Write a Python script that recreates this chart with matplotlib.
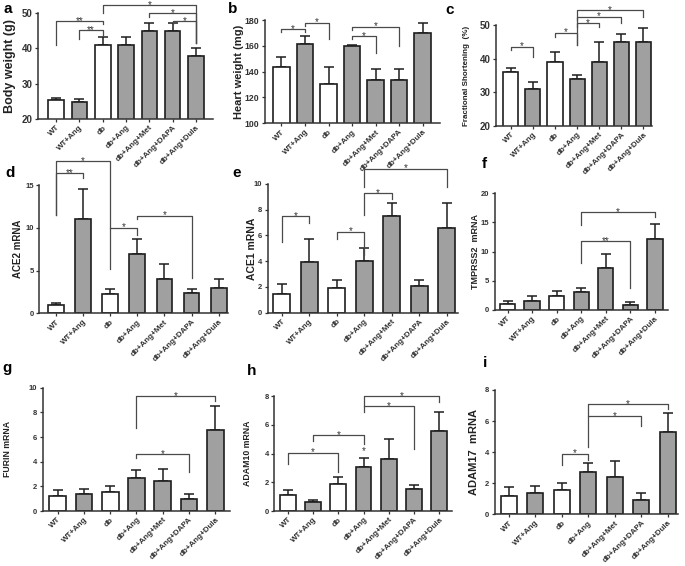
import matplotlib
matplotlib.use("Agg")
import matplotlib.pyplot as plt
import numpy as np

plt.rcParams["font.family"] = ["Liberation Sans", "DejaVu Sans"]

W, H = 685, 566

GROUPS = ["WT", "WT+Ang", "db", "db+Ang", "db+Ang+Met", "db+Ang+DAPA", "db+Ang+Dula"]
WHITE_GROUPS = ["WT", "db"]

# panel a-c: physiology
body_weight = [25.4, 24.9, 40.9, 40.9, 44.8, 44.8, 37.9]
body_weight_err = [0.6, 0.7, 2.2, 2.2, 2.2, 2.2, 2.1]
heart_weight = [143.8, 161.2, 130.4, 160.1, 133.4, 133.4, 169.7]
heart_weight_err = [7.8, 6.7, 13.0, 0.4, 8.4, 8.4, 8.2]
frac_short = [36.1, 30.9, 38.9, 33.9, 38.9, 44.9, 44.9]
frac_short_err = [1.0, 2.3, 3.2, 1.3, 6.1, 2.3, 4.1]

# panel d-i: mRNA
ace2 = [1.0, 11.0, 2.3, 6.9, 4.0, 2.4, 2.9]
ace2_err = [0.2, 3.5, 0.5, 1.8, 1.8, 0.4, 1.1]
ace1 = [1.45, 3.95, 1.9, 4.05, 7.5, 2.1, 6.6]
ace1_err = [0.75, 1.8, 0.65, 0.95, 1.0, 0.45, 1.9]
tmprss2 = [1.1, 1.5, 2.4, 3.0, 7.2, 0.9, 12.2]
tmprss2_err = [0.4, 0.9, 0.9, 0.8, 2.4, 0.4, 2.6]
furin = [1.2, 1.35, 1.55, 2.7, 2.4, 1.0, 6.6]
furin_err = [0.5, 0.4, 0.45, 0.6, 1.0, 0.35, 1.9]
adam10 = [1.1, 0.6, 1.9, 3.05, 3.6, 1.55, 5.6]
adam10_err = [0.35, 0.2, 0.45, 0.65, 1.45, 0.25, 1.3]
adam17 = [1.2, 1.35, 1.55, 2.7, 2.4, 0.95, 5.3]
adam17_err = [0.55, 0.45, 0.45, 0.6, 1.0, 0.4, 1.2]

# significance brackets: (group i, group j, height, label, leg end i, leg end j)
sig_a = [(0, 2, 47.7, "**", 41.0, 46.8), (1, 2, 45.1, "**", 42.5, 43.8),
         (2, 6, 52.2, "*", 49.8, 41.4), (4, 6, 49.8, "*", 48.8, 41.4),
         (5, 6, 47.7, "*", 46.8, 41.4)]
sig_b = [(0, 1, 172.8, "*", 170.5, 170.5), (1, 2, 178.0, "*", 175.0, 165.0),
         (3, 4, 167.6, "*", 165.5, 154.4), (3, 5, 174.8, "*", 172.5, 160.0)]
sig_c = [(0, 1, 43.6, "*", 42.6, 40.6), (2, 3, 47.7, "*", 46.5, 44.1),
         (3, 4, 50.5, "*", 49.5, 49.3), (3, 5, 52.5, "*", 51.5, 50.5),
         (3, 6, 54.5, "*", 44.1, 52.5)]
sig_d = [(0, 1, 16.4, "**", 11.5, 15.8), (0, 2, 17.8, "*", 11.5, 10.0),
         (2, 3, 10.0, "*", 5.2, 9.1), (3, 5, 11.4, "*", 11.0, 4.1)]
sig_e = [(0, 1, 7.5, "*", 5.5, 7.0), (2, 3, 6.3, "*", 5.7, 4.5),
         (3, 4, 9.3, "*", 7.6, 8.8), (3, 6, 11.2, "*", 9.8, 9.8)]
sig_f = [(3, 5, 11.8, "**", 8.0, 3.7), (3, 6, 16.8, "*", 14.6, 16.0)]
sig_g = [(3, 5, 4.6, "*", 4.3, 3.2), (3, 6, 9.3, "*", 6.7, 8.9)]
sig_h = [(0, 2, 4.07, "*", 3.3, 2.75), (1, 3, 5.3, "*", 4.9, 4.7),
         (3, 5, 7.3, "*", 6.9, 4.3), (3, 6, 8.0, "*", 7.3, 7.6)]
sig_i = [(2, 3, 3.9, "*", 3.2, 3.5), (3, 5, 6.3, "*", 4.3, 5.7),
         (3, 6, 7.1, "*", 6.3, 6.8)]
single_star_h = (3, 4.15)

GRAY = "#a0a0a0"
EDGE = "#1e1e1e"
LINE = "#4a4a4a"

panels = [
    # letter, values, errs, ylabel, yticks, sig, rect px (left, right, y_bottom, y_top), xlim,
    # bar width, ylabel size, ylabel centre x px, tick size, letter pos px (left, baseline)
    ("a", body_weight, body_weight_err, "Body weight (g)", [20, 30, 40, 50], sig_a,
     (38, 213, 119, 12.7), (-0.78, 6.73), 0.67, 9, 10, 7, (3, 13)),
    ("b", heart_weight, heart_weight_err, "Heart weight (mg)", [100, 120, 140, 160, 180], sig_b,
     (265, 440, 123.3, 20), (-0.70, 6.74), 0.7, 8, 239, 6.3, (228, 13)),
    ("c", frac_short, frac_short_err, "Fractional Shortening  (%)", [20, 30, 40, 50], sig_c,
     (496, 652, 126, 25), (-0.67, 6.39), 0.68, 5.8, 466, 7, (445, 14)),
    ("d", ace2, ace2_err, "ACE2 mRNA", [0, 5, 10, 15], sig_d,
     (39.3, 228, 313.3, 185), (-0.61, 6.34), 0.58, 7, 18, 5.5, (5, 177)),
    ("e", ace1, ace1_err, "ACE1 mRNA", [0, 2, 4, 6, 8, 10], sig_e,
     (268, 458, 312.7, 184), (-0.50, 6.41), 0.62, 7.5, 252, 5.5, (232, 177)),
    ("f", tmprss2, tmprss2_err, "TMPRSS2  mRNA", [0, 5, 10, 15, 20], sig_f,
     (495, 668, 310, 193.3), (-0.51, 6.53), 0.62, 6.5, 475, 5.5, (482, 168)),
    ("g", furin, furin_err, "FURIN mRNA", [0, 2, 4, 6, 8, 10], sig_g,
     (42.7, 230, 511, 387.7), (-0.57, 6.56), 0.64, 6.3, 8, 5.5, (2, 372)),
    ("h", adam10, adam10_err, "ADAM10 mRNA", [0, 2, 4, 6, 8], sig_h,
     (274.3, 451.7, 511, 396.3), (-0.54, 6.50), 0.63, 6.3, 247, 5.5, (247, 375)),
    ("i", adam17, adam17_err, "ADAM17  mRNA", [0, 2, 4, 6, 8], sig_i,
     (495, 678, 514.3, 390), (-0.52, 6.38), 0.6, 8, 474, 5.5, (483, 367)),
]

fig = plt.figure(figsize=(W / 100, H / 100), dpi=100)

for (letter, vals, errs, ylabel, yticks, sig, rect, xlim, bw, ylfs, ylx, tfs, lpos) in panels:
    left, right, ybot, ytop = rect
    ax = fig.add_axes([left / W, 1 - ybot / H, (right - left) / W, (ybot - ytop) / H])
    x = np.arange(len(GROUPS))
    colors = ["white" if g in WHITE_GROUPS else GRAY for g in GROUPS]
    ax.errorbar(x, vals, yerr=[np.zeros(len(vals)), errs], fmt="none", ecolor=EDGE,
                elinewidth=1.1, capsize=3.4, capthick=1.1, zorder=1)
    ax.bar(x, vals, width=bw, color=colors, edgecolor=EDGE, linewidth=1.2, zorder=2)
    ax.set_xlim(*xlim)
    ax.set_ylim(yticks[0], yticks[-1])
    ax.set_yticks(yticks)
    ax.set_xticks(x)
    ax.set_xticklabels(GROUPS, rotation=45, ha="right", rotation_mode="anchor",
                       fontsize=5.8, fontweight="bold", color="#333333")
    ax.tick_params(axis="y", labelsize=tfs, length=2.5, width=0.9, colors="#333333", pad=1.5)
    ax.tick_params(axis="x", length=2.5, width=0.9, colors="#333333", pad=1.2)
    for lab in ax.get_yticklabels():
        lab.set_fontweight("bold")
    for side in ("top", "right"):
        ax.spines[side].set_visible(False)
    for side in ("left", "bottom"):
        ax.spines[side].set_linewidth(1.1)
        ax.spines[side].set_color("#333333")
    ax.set_ylabel(ylabel, fontsize=ylfs, fontweight="bold", color="#222222", va="center")
    ax.yaxis.set_label_coords((ylx - left) / (right - left), 0.5)

    for (i, j, y, lab, yi, yj) in sig:
        ax.plot([i, i, j, j], [yi, y, y, yj], color=LINE, lw=0.9, clip_on=False, zorder=3)
        ax.annotate(lab, xy=((i + j) / 2, y), xytext=(0, -2), textcoords="offset points",
                    ha="center", va="baseline", fontsize=7, color="#333333",
                    annotation_clip=False)
    if letter == "h":
        sx, sy = single_star_h
        ax.annotate("*", xy=(sx, sy), xytext=(0, -2), textcoords="offset points",
                    ha="center", va="baseline", fontsize=7, color="#333333", annotation_clip=False)

    fig.text(lpos[0] / W, 1 - lpos[1] / H, letter, fontsize=11, fontweight="bold",
             ha="left", va="baseline")

fig.savefig("out.png", dpi=100, facecolor="white")
